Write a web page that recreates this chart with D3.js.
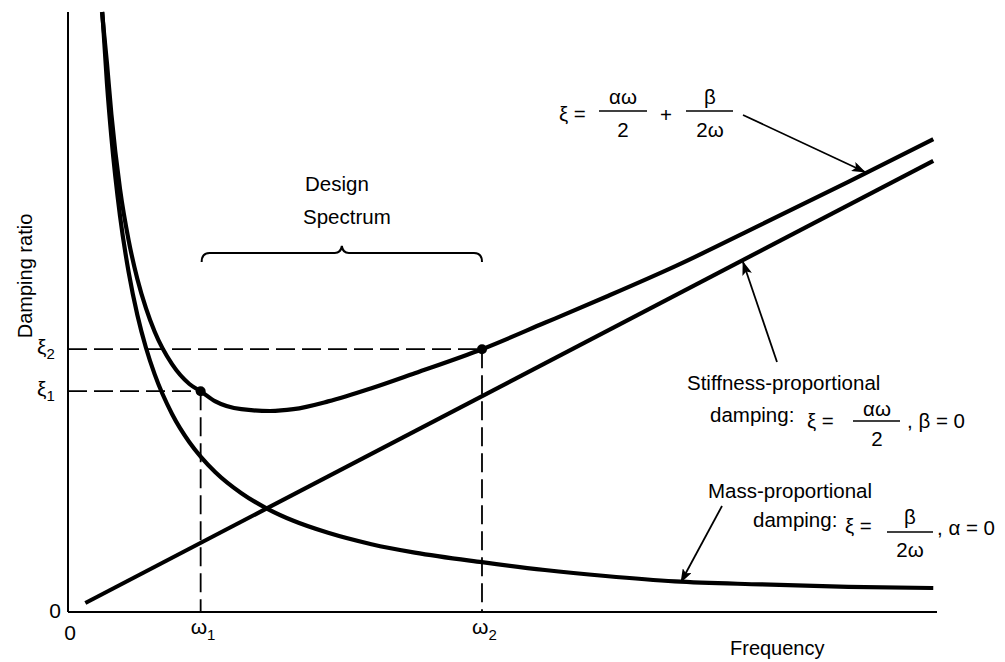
<!DOCTYPE html>
<html>
<head>
<meta charset="utf-8">
<script src="https://cdn.jsdelivr.net/npm/d3@7"></script>
<style>
  html, body { margin: 0; padding: 0; background: #fff; }
  svg { display: block; }
  text { font-family: "Liberation Sans", Arial, Helvetica, sans-serif; fill: #000; }
</style>
</head>
<body>
<svg id="chart" width="1005" height="662"></svg>
<script>
// ---------- data (arbitrary units) ----------
const freqDomain = [0, 100];
const ratioDomain = [0, 100];

// Mass-proportional damping curve
const massFreq  = [3.96, 4.5, 5, 6, 7, 8, 9, 10, 12, 14, 15.3, 17, 20, 23, 26, 30, 35, 40, 47.75, 55, 62, 70, 80, 90, 99.8];
const massRatio = [100, 88, 79.2, 66, 56.6, 49.5, 44, 39.6, 33, 28.3, 25.9, 23.3, 19.8, 17.2, 15.2, 13.2, 11.3, 9.9, 8.3, 7.0, 6.0, 5.1, 4.6, 4.2, 4.0];

// Stiffness-proportional damping line
const stiffFreq  = [2, 99.8];
const stiffRatio = [1.5, 75.2];

// Rayleigh (combined) damping curve
const combFreq  = [3.92, 4.5, 5, 6, 7, 8, 9, 10, 12, 14, 15.3, 17, 20, 23.3, 26, 30, 35, 40, 47.75, 55, 62, 70, 80, 90, 99.8];
const combRatio = [100, 91.4, 83, 70.5, 61.9, 55.5, 50.6, 46.7, 41.3, 38.0, 36.8, 35.1, 33.8, 33.5, 33.8, 35.1, 37.3, 39.8, 43.8, 48.2, 52.5, 57.6, 64.6, 71.7, 78.8];

// design points
const designFreq  = [15.3, 47.75];
const designRatio = [36.8, 43.8];
const freqLabels  = ["ω", "ω"];
const subLabels   = ["1", "2"];
const ratioLabels = ["ξ", "ξ"];

// ---------- scales ----------
const svg = d3.select("#chart");
const x = d3.scaleLinear().domain(freqDomain).range([68, 935]);
const y = d3.scaleLinear().domain(ratioDomain).range([612, 12]);

// ---------- axes ----------
const axisG = svg.append("g");
axisG.append("line").attr("x1", x(0)).attr("x2", x(0)).attr("y1", y(100)).attr("y2", y(0))
  .attr("stroke", "#000").attr("stroke-width", 2);
axisG.append("line").attr("x1", x(0)).attr("x2", x(100) + 2).attr("y1", y(0)).attr("y2", y(0))
  .attr("stroke", "#000").attr("stroke-width", 2);

// ---------- dashed guides ----------
const dashG = svg.append("g").attr("stroke", "#000").attr("stroke-width", 1.8).attr("stroke-dasharray", "19,7");
designFreq.forEach((f, i) => {
  dashG.append("line").attr("x1", x(0)).attr("x2", x(f)).attr("y1", y(designRatio[i])).attr("y2", y(designRatio[i]));
  dashG.append("line").attr("x1", x(f)).attr("x2", x(f)).attr("y1", y(designRatio[i])).attr("y2", y(0));
});

// ---------- curves ----------
const line = d3.line().x(d => x(d[0])).y(d => y(d[1])).curve(d3.curveMonotoneX);
const curveG = svg.append("g").attr("fill", "none").attr("stroke", "#000").attr("stroke-width", 4.2);
curveG.append("path").attr("d", line(massFreq.map((f, i) => [f, massRatio[i]])));
curveG.append("path").attr("d", line(stiffFreq.map((f, i) => [f, stiffRatio[i]])));
curveG.append("path").attr("d", line(combFreq.map((f, i) => [f, combRatio[i]])));

// dots
svg.append("g").selectAll("circle").data(designFreq).join("circle")
  .attr("cx", d => x(d)).attr("cy", (d, i) => y(designRatio[i])).attr("r", 5).attr("fill", "#000");

// ---------- tick labels ----------
svg.append("text").attr("x", 61).attr("y", 618).attr("text-anchor", "end").attr("font-size", 21).text("0");
svg.append("text").attr("x", x(0) + 2).attr("y", 640).attr("text-anchor", "middle").attr("font-size", 21).text("0");

designFreq.forEach((f, i) => {
  const t = svg.append("text").attr("x", x(f) - 10).attr("y", 634).attr("font-size", 21);
  t.append("tspan").text(freqLabels[i]);
  t.append("tspan").attr("font-size", 15).attr("dy", 6).text(subLabels[i]);
});
designRatio.forEach((r, i) => {
  const t = svg.append("text").attr("x", 37).attr("y", y(r) + 5).attr("font-size", 21);
  t.append("tspan").text(ratioLabels[i]);
  t.append("tspan").attr("font-size", 15).attr("dy", 5).text(subLabels[i]);
});

// axis titles
svg.append("text").attr("x", 730).attr("y", 655).attr("font-size", 20).text("Frequency");
svg.append("text").attr("transform", "translate(32,276) rotate(-90)").attr("text-anchor", "middle")
  .attr("font-size", 20).text("Damping ratio");

// ---------- Design Spectrum brace ----------
svg.append("text").attr("x", 305).attr("y", 191).attr("font-size", 20.5).text("Design");
svg.append("text").attr("x", 303).attr("y", 224).attr("font-size", 20.5).text("Spectrum");
const bx1 = x(designFreq[0]) + 1, bx2 = x(designFreq[1]), bm = (bx1 + bx2) / 2, by = 253;
svg.append("path")
  .attr("d", `M${bx1},${by + 9} Q${bx1},${by} ${bx1 + 8},${by} L${bm - 7},${by} Q${bm - 1},${by} ${bm},${by - 7} Q${bm + 1},${by} ${bm + 7},${by} L${bx2 - 8},${by} Q${bx2},${by} ${bx2},${by + 9}`)
  .attr("fill", "none").attr("stroke", "#000").attr("stroke-width", 2);

// ---------- arrows ----------
const defs = svg.append("defs");
defs.append("marker").attr("id", "ah").attr("viewBox", "0 0 14 10").attr("refX", 13).attr("refY", 5)
  .attr("markerWidth", 14).attr("markerHeight", 10).attr("markerUnits", "userSpaceOnUse").attr("orient", "auto")
  .append("path").attr("d", "M0,0 L14,5 L0,10 L3,5 Z").attr("fill", "#000");
function arrow(x1, y1, x2, y2) {
  svg.append("line").attr("x1", x1).attr("y1", y1).attr("x2", x2).attr("y2", y2)
    .attr("stroke", "#000").attr("stroke-width", 1.8).attr("marker-end", "url(#ah)");
}
arrow(743, 115, 865, 172);
arrow(777, 362, 743, 262);
arrow(722, 506, 681, 582);

// ---------- formulas ----------
function txt(xp, yp, s, size, anchor) {
  return svg.append("text").attr("x", xp).attr("y", yp).attr("font-size", size || 20.5)
    .attr("text-anchor", anchor || "start").text(s);
}
function bar(xa, xb, yb) {
  svg.append("line").attr("x1", xa).attr("x2", xb).attr("y1", yb).attr("y2", yb).attr("stroke", "#000").attr("stroke-width", 1.5);
}
// top formula
txt(559, 121, "ξ =");
bar(599, 647, 111); txt(623, 104, "αω", 20.5, "middle"); txt(623, 137, "2", 20.5, "middle");
txt(666, 122, "+", 20.5, "middle");
bar(686, 733, 111); txt(710, 104, "β", 20.5, "middle"); txt(710, 137, "2ω", 20.5, "middle");

// stiffness label
txt(687, 390, "Stiffness-proportional");
txt(710, 422, "damping:");
txt(807, 428, "ξ =");
bar(853, 900, 421); txt(877, 416, "αω", 20.5, "middle"); txt(877, 446, "2", 20.5, "middle");
txt(907, 428, ", β = 0");

// mass label
txt(708, 498, "Mass-proportional");
txt(753, 527, "damping:");
txt(845, 533, "ξ =");
bar(887, 933, 532); txt(910, 524, "β", 20.5, "middle"); txt(910, 557, "2ω", 20.5, "middle");
txt(937, 535, ", α = 0");
</script>
</body>
</html>
